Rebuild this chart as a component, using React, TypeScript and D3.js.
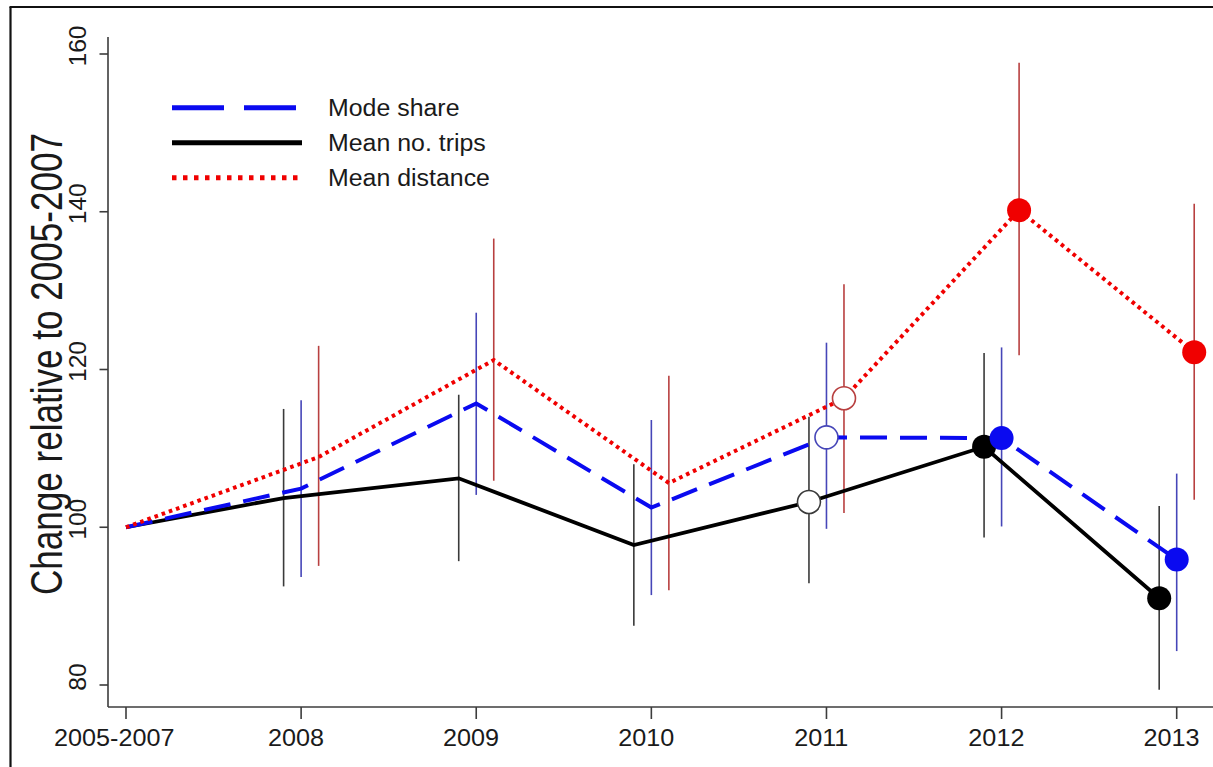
import React from "react";
import * as d3 from "d3";

// Survey periods on the x axis
const categories = ["2005-2007", "2008", "2009", "2010", "2011", "2012", "2013"];

// Index values (2005-2007 = 100) with 95% interval bounds
const tripsValues = [100, 103.7, 106.2, 97.75, 103.2, 110.2, 91.0];
const tripsLow = [null, 92.5, 95.7, 87.5, 92.9, 98.7, 79.4];
const tripsHigh = [null, 115.0, 116.8, 108.0, 114.0, 122.1, 102.7];

const modeValues = [100, 104.9, 115.7, 102.5, 111.4, 111.3, 95.9];
const modeLow = [null, 93.7, 104.1, 91.4, 99.8, 100.1, 84.3];
const modeHigh = [null, 116.1, 127.2, 113.6, 123.4, 122.8, 106.8];

const distValues = [100, 108.9, 121.2, 105.6, 116.35, 140.2, 122.2];
const distLow = [null, 95.1, 105.9, 92.0, 101.8, 121.8, 103.5];
const distHigh = [null, 123.0, 136.6, 119.2, 130.8, 158.9, 141.0];

// Marker style per period: none, hollow, or solid circle
const markerKinds = ["none", "none", "none", "none", "open", "filled", "filled"];

const yTicks = [80, 100, 120, 140, 160];

const legendLabels = ["Mode share", "Mean no. trips", "Mean distance"];

const W = 1213;
const H = 767;
const FONT = "'Liberation Sans', Arial, Helvetica, sans-serif";

type Series = {
  name: string;
  values: number[];
  low: (number | null)[];
  high: (number | null)[];
  color: string;
  barColor: string;
  dash: string | null;
  width: number;
  offset: number;
};

export default function App() {
  const x = d3.scalePoint<string>().domain(categories).range([126, 1176.7]);
  const y = d3.scaleLinear().domain([80, 160]).range([685, 54]);
  const step = x.step();

  const series: Series[] = [
    {
      name: "trips",
      values: tripsValues,
      low: tripsLow,
      high: tripsHigh,
      color: "#000000",
      barColor: "#3a3a3a",
      dash: null,
      width: 3.8,
      offset: -0.1,
    },
    {
      name: "mode",
      values: modeValues,
      low: modeLow,
      high: modeHigh,
      color: "#0a0af0",
      barColor: "#4646b8",
      dash: "27 13",
      width: 4,
      offset: 0,
    },
    {
      name: "distance",
      values: distValues,
      low: distLow,
      high: distHigh,
      color: "#f00000",
      barColor: "#b84040",
      dash: "3.6 4",
      width: 4,
      offset: 0.1,
    },
  ];

  const px = (s: Series, i: number) =>
    (x(categories[i]) as number) + (i === 0 ? 0 : s.offset * step);

  const line = (s: Series) =>
    d3
      .line<number>()
      .x((_, i) => px(s, i))
      .y((v) => y(v))(s.values) as string;

  const axisColor = "#3c3c3c";
  const textColor = "#1a1a1a";
  const axisX = 108;
  const axisY = 707;

  const legendItems = [
    { label: legendLabels[0], s: series[1], dash: "52 20" },
    { label: legendLabels[1], s: series[0], dash: null },
    { label: legendLabels[2], s: series[2], dash: "4.5 6.5" },
  ];

  return (
    <svg
      width={W}
      height={H}
      style={{ position: "absolute", left: 0, top: 0, background: "#fff" }}
      fontFamily={FONT}
    >
      <rect x={0} y={0} width={W} height={H} fill="#fff" />
      {/* outer frame */}
      <line x1={10.5} y1={7} x2={10.5} y2={H} stroke="#111" strokeWidth={2.2} />
      <line x1={9.5} y1={7} x2={W} y2={7} stroke="#111" strokeWidth={2.2} />

      {/* y axis */}
      <line x1={axisX} y1={37} x2={axisX} y2={axisY} stroke={axisColor} strokeWidth={1.6} />
      {yTicks.map((t) => (
        <g key={t}>
          <line x1={axisX - 8.5} y1={y(t)} x2={axisX} y2={y(t)} stroke={axisColor} strokeWidth={1.6} />
          <text
            transform={`translate(86,${y(t) - 8}) rotate(-90) scale(1.05,1)`}
            textAnchor="middle"
            fontSize={23.5}
            fill={textColor}
          >
            {t}
          </text>
        </g>
      ))}
      <text
        transform={`translate(62,364) rotate(-90)`}
        textAnchor="middle"
        fontSize={44}
        textLength={462}
        lengthAdjust="spacingAndGlyphs"
        fill={textColor}
      >
        Change relative to 2005-2007
      </text>

      {/* x axis */}
      <line x1={axisX} y1={axisY} x2={W} y2={axisY} stroke={axisColor} strokeWidth={1.6} />
      {categories.map((c) => (
        <g key={c}>
          <line x1={x(c)} y1={axisY} x2={x(c)} y2={axisY + 12} stroke={axisColor} strokeWidth={1.6} />
          <text
            transform={`translate(${(x(c) as number) - 1.3 * c.length},746) scale(1.05,1)`}
            textAnchor="middle"
            fontSize={24}
            fill={textColor}
          >
            {c}
          </text>
        </g>
      ))}

      {/* confidence intervals */}
      {series.map((s) =>
        s.values.map((_, i) => {
          const lo = s.low[i];
          const hi = s.high[i];
          if (lo == null || hi == null) return null;
          return (
            <line
              key={`${s.name}-ci-${i}`}
              x1={px(s, i)}
              x2={px(s, i)}
              y1={y(lo)}
              y2={y(hi)}
              stroke={s.barColor}
              strokeWidth={1.6}
            />
          );
        })
      )}

      {/* trend lines */}
      {series.map((s) => (
        <path
          key={`${s.name}-line`}
          d={line(s)}
          fill="none"
          stroke={s.color}
          strokeWidth={s.width}
          strokeDasharray={s.dash ?? undefined}
          strokeLinejoin="miter"
        />
      ))}

      {/* markers */}
      {series.map((s) =>
        s.values.map((v, i) => {
          const kind = markerKinds[i];
          if (kind === "none") return null;
          return (
            <circle
              key={`${s.name}-pt-${i}`}
              cx={px(s, i)}
              cy={y(v)}
              r={kind === "filled" ? 12 : 11.5}
              fill={kind === "filled" ? s.color : "#fff"}
              stroke={kind === "filled" ? "none" : s.barColor}
              strokeWidth={1.6}
            />
          );
        })
      )}

      {/* legend */}
      {legendItems.map((it, k) => {
        const ly = 107.7 + k * 35;
        return (
          <g key={it.label}>
            <line
              x1={172}
              x2={302}
              y1={ly}
              y2={ly}
              stroke={it.s.color}
              strokeWidth={5}
              strokeDasharray={it.dash ?? undefined}
            />
            <text
              transform={`translate(328,${ly + 8.3}) scale(1.06,1)`}
              fontSize={23.5}
              fill={textColor}
            >
              {it.label}
            </text>
          </g>
        );
      })}
    </svg>
  );
}
